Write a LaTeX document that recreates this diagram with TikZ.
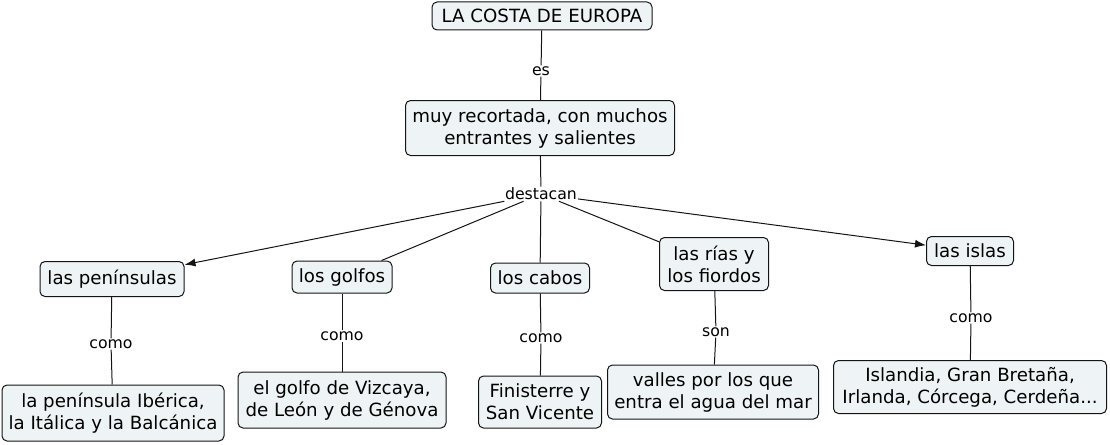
\documentclass[tikz,border=0pt]{standalone}
\usepackage{fontspec}
\setmainfont{DejaVu Sans}
\usepackage{xcolor}
\definecolor{cmfill}{RGB}{238,244,246}
\definecolor{cmline}{RGB}{20,20,20}
\usetikzlibrary{arrows.meta, positioning}

\tikzset{
  concept/.style={draw=cmline, fill=cmfill, line width=1pt, rounded corners=5pt,
    align=center, font=\fontsize{18.2}{22}\selectfont, inner sep=0pt},
  linklabel/.style={font=\fontsize{15.7}{18}\selectfont, inner sep=1pt},
  link/.style={draw=cmline, line width=1pt},
  linkarrow/.style={link, -{Latex[length=11pt,width=8pt]}}
}

\begin{document}
\begin{tikzpicture}[x=1pt, y=-1pt]
  \useasboundingbox (0,0) rectangle (1110,444);

  % top of the map
  \node[concept, minimum width=220, minimum height=28] (costa) at (542,16) {LA COSTA DE EUROPA};
  \node[linklabel] (es) at (541,71) {es};
  \node[concept, minimum width=269, minimum height=55] (recortada) at (540,128)
       {muy recortada, con muchos\\entrantes y salientes};
  \node[linklabel] (destacan) at (541,194) {destacan};

  % second row
  \node[concept, minimum width=144, minimum height=35] (peninsulas) at (112,279) {las penínsulas};
  \node[concept, minimum width=100, minimum height=32] (golfos) at (342,277) {los golfos};
  \node[concept, minimum width=99, minimum height=30] (cabos) at (540,278) {los cabos};
  \node[concept, minimum width=109, minimum height=53] (rias) at (714,264) {las rías y\\los fiordos};
  \node[concept, minimum width=87, minimum height=29] (islas) at (970,251) {las islas};

  % link labels to the examples
  \node[linklabel] (como1) at (111,344) {como};
  \node[linklabel] (como2) at (342,336) {como};
  \node[linklabel] (como3) at (541,338) {como};
  \node[linklabel] (son) at (716,332) {son};
  \node[linklabel] (como5) at (971,318) {como};

  % bottom row
  \node[concept, minimum width=222, minimum height=56] (iberica) at (113,413)
       {la península Ibérica,\\la Itálica y la Balcánica};
  \node[concept, minimum width=208, minimum height=56] (vizcaya) at (342,400)
       {el golfo de Vizcaya,\\de León y de Génova};
  \node[concept, minimum width=123, minimum height=52] (finisterre) at (540,402)
       {Finisterre y\\San Vicente};
  \node[concept, minimum width=211, minimum height=54] (valles) at (713,392)
       {valles por los que\\entra el agua del mar};
  \node[concept, minimum width=273, minimum height=53] (islandia) at (970,387)
       {Islandia, Gran Bretaña,\\Irlanda, Córcega, Cerdeña...};

  % connectors
  \draw[link] (costa) -- (es);
  \draw[link] (es) -- (recortada);
  \draw[link] (recortada) -- (destacan);
  \draw[linkarrow] (destacan) -- (peninsulas);
  \draw[link] (destacan) -- (golfos);
  \draw[link] (destacan) -- (cabos);
  \draw[link] (destacan) -- (rias);
  \draw[linkarrow] (destacan) -- (islas);

  \draw[link] (peninsulas) -- (como1);
  \draw[link] (como1) -- (iberica);
  \draw[link] (golfos) -- (como2);
  \draw[link] (como2) -- (vizcaya);
  \draw[link] (cabos) -- (como3);
  \draw[link] (como3) -- (finisterre);
  \draw[link] (rias) -- (son);
  \draw[link] (son) -- (valles);
  \draw[link] (islas) -- (como5);
  \draw[link] (como5) -- (islandia);
\end{tikzpicture}
\end{document}
